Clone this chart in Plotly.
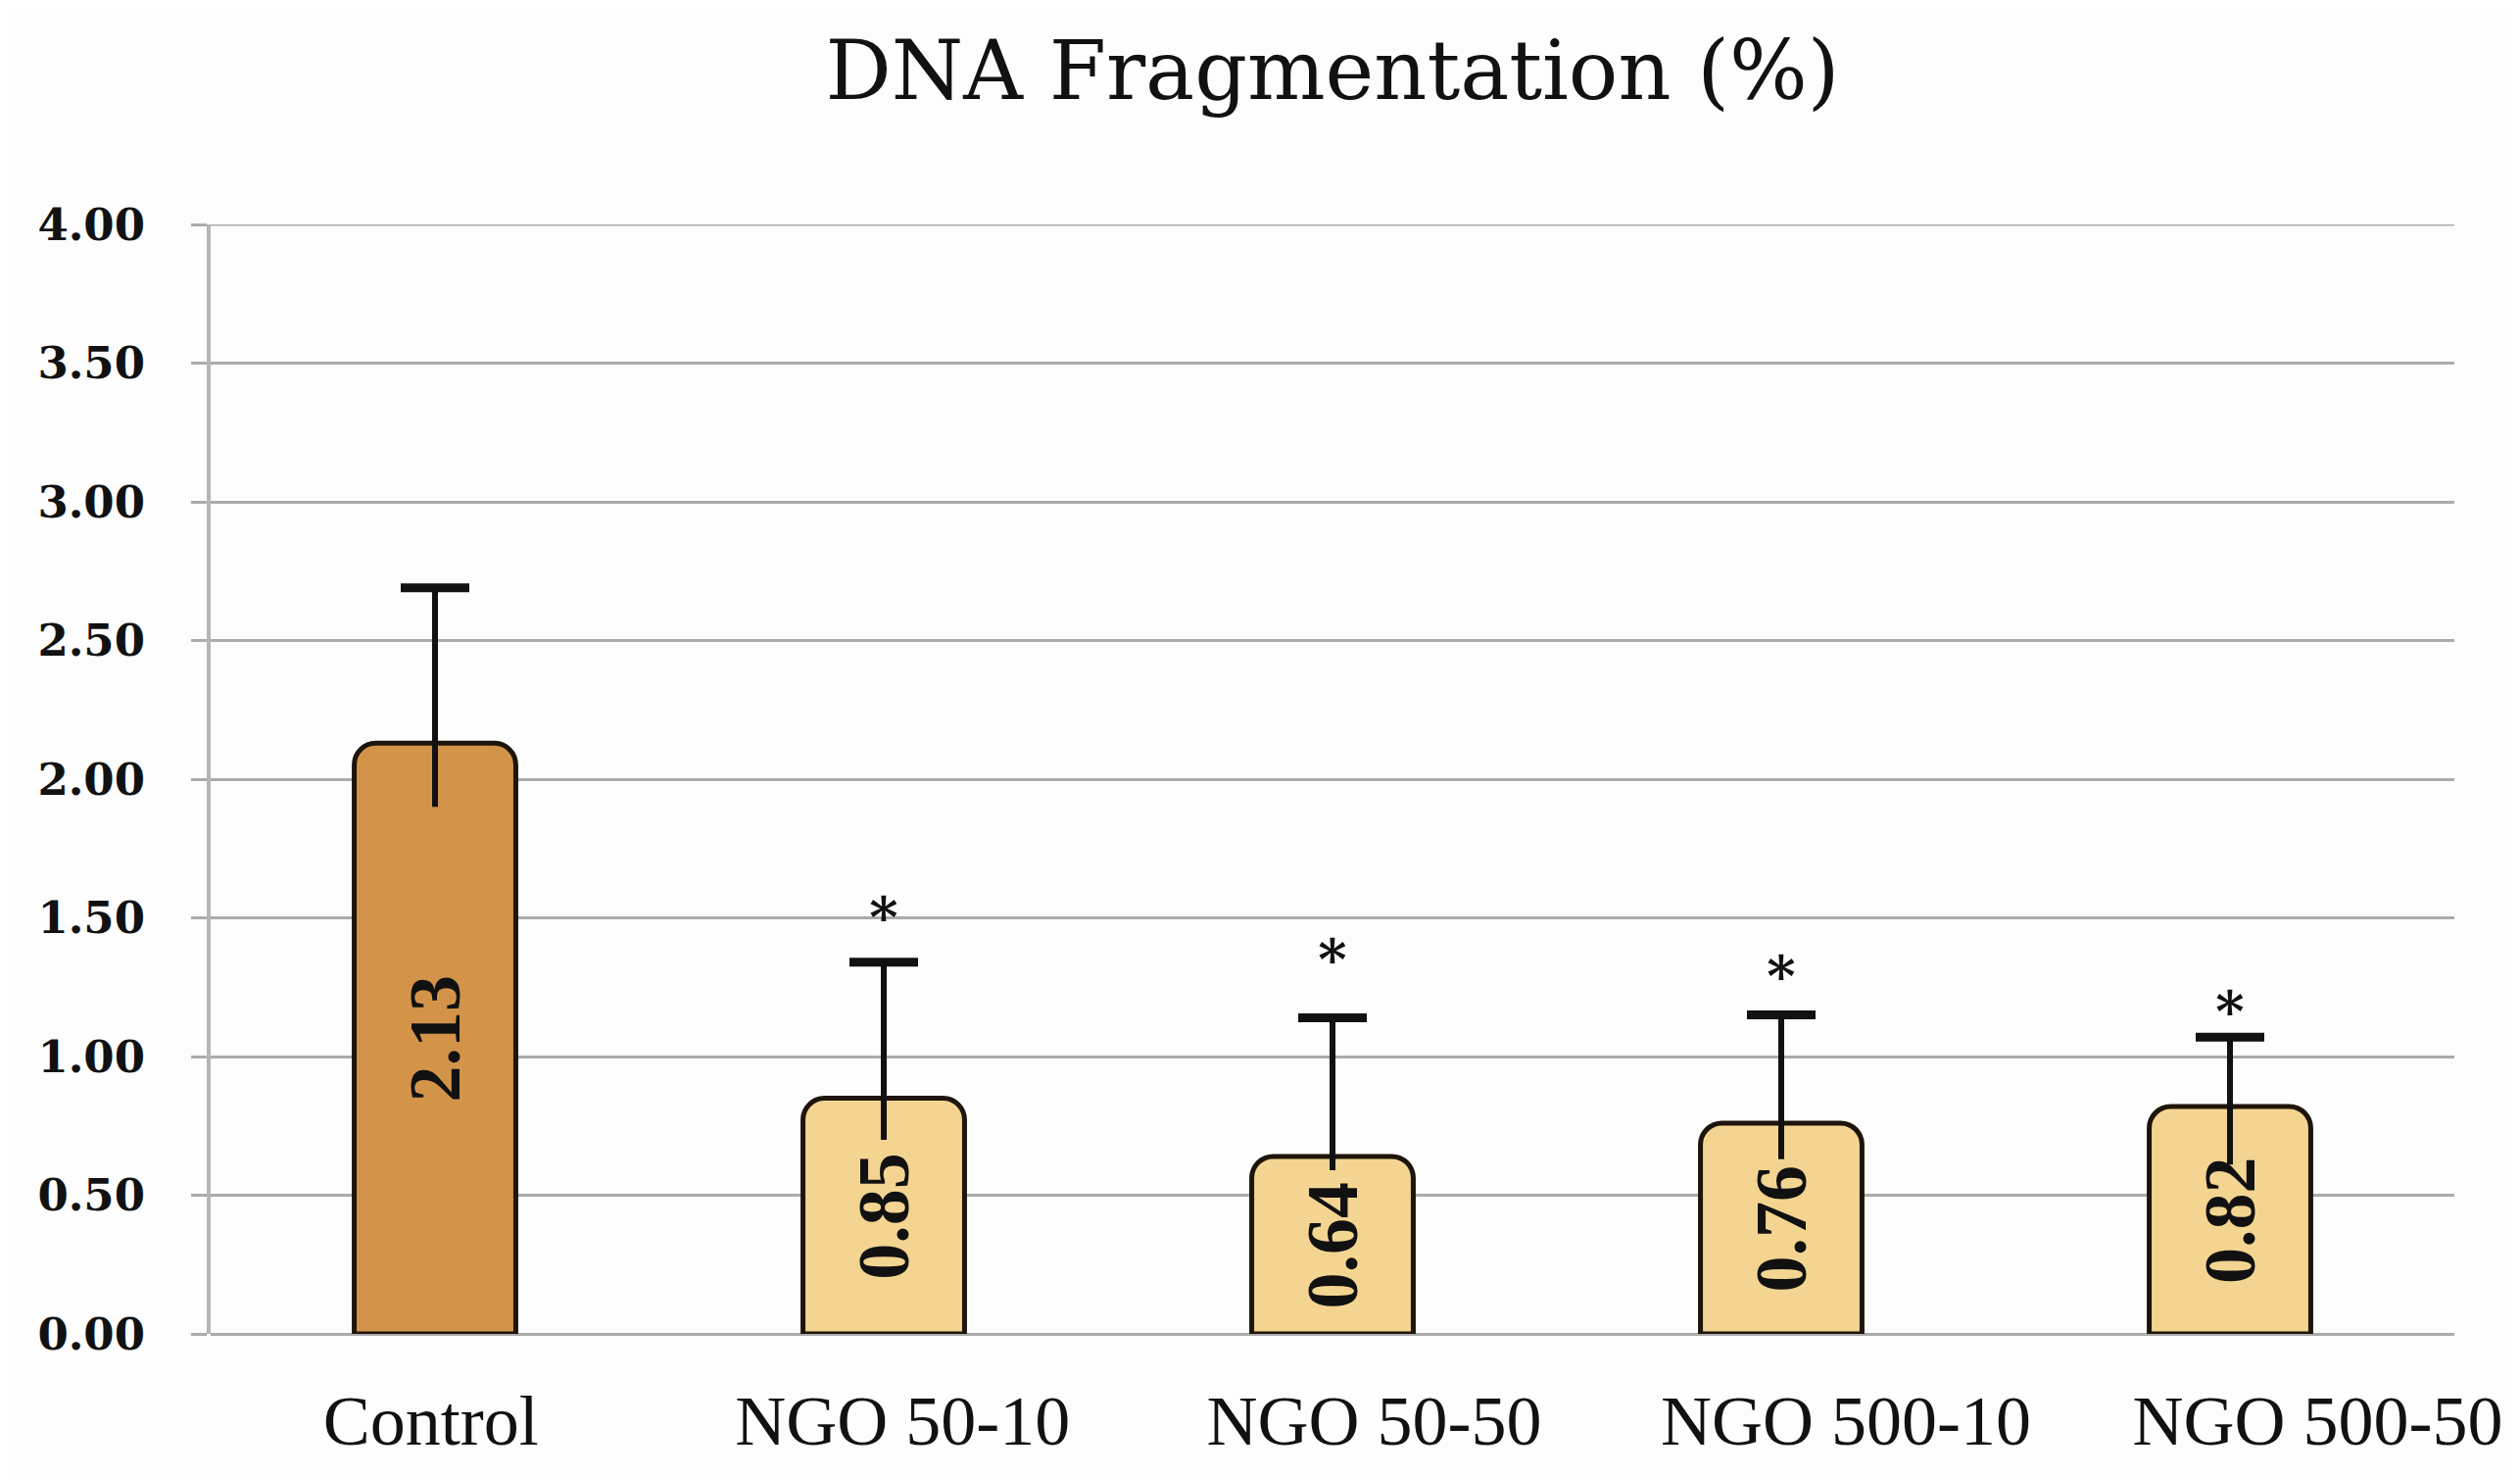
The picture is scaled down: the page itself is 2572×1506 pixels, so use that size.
import plotly.graph_objects as go

categories = ["Control", "NGO 50-10", "NGO 50-50", "NGO 500-10", "NGO 500-50"]
values = [2.13, 0.85, 0.64, 0.76, 0.82]
err_top = [2.69, 1.34, 1.14, 1.15, 1.07]
stem_bottom = [1.90, 0.70, 0.59, 0.63, 0.61]
star_y = [None, 1.48, 1.33, 1.27, 1.14]
value_labels = ["2.13", "0.85", "0.64", "0.76", "0.82"]
y_ticks = [0, 0.5, 1.0, 1.5, 2.0, 2.5, 3.0, 3.5, 4.0]
y_ticklabels = ["0.00", "0.50", "1.00", "1.50", "2.00", "2.50", "3.00", "3.50", "4.00"]

bar_colors = ["#D3944A"] + ["#F3D591"] * 4
edge = "#1E150A"
grid = "#ABABAB"

fig = go.Figure()
fig.add_trace(go.Bar(
    x=categories, y=values, width=0.36,
    marker=dict(color=bar_colors, line=dict(color=edge, width=5), cornerradius=22),
    hoverinfo="skip", showlegend=False,
))

# error stems
for c, lo, hi in zip(categories, stem_bottom, err_top):
    fig.add_trace(go.Scatter(
        x=[c, c], y=[lo, hi], mode="lines",
        line=dict(color="#111111", width=6), showlegend=False, hoverinfo="skip",
    ))
# caps
fig.add_trace(go.Scatter(
    x=categories, y=err_top, mode="markers",
    marker=dict(symbol="line-ew", size=50, line=dict(color="#111111", width=9)),
    showlegend=False, hoverinfo="skip",
))
# stars
fig.add_trace(go.Scatter(
    x=categories, y=star_y, mode="text", text=["*" if s is not None else "" for s in star_y],
    textfont=dict(family="DejaVu Serif", size=56, color="#111111", weight="bold"),
    textposition="middle center", showlegend=False, hoverinfo="skip",
))

for c, v, t in zip(categories, values, value_labels):
    fig.add_annotation(
        x=c, y=v / 2, text=t, textangle=-90, showarrow=False,
        font=dict(family="Liberation Serif", size=74, color="#111111", weight="bold"),
        xanchor="center", yanchor="middle",
    )

# invisible trace carrying the category labels on a slightly wider-spaced axis
fig.add_trace(go.Scatter(
    x=list(range(len(categories))), y=[None] * len(categories), xaxis="x2", yaxis="y",
    mode="markers", showlegend=False, hoverinfo="skip",
))

# top gridline (plotly omits the gridline at the range edge)
fig.add_shape(type="line", xref="paper", yref="y", x0=-0.007, x1=1, y0=4, y1=4,
              line=dict(color=grid, width=3), layer="below")

fig.update_layout(
    width=2572, height=1506,
    paper_bgcolor="#FDFDFD", plot_bgcolor="#FDFDFD",
    margin=dict(l=207, r=75, t=221, b=153),
    title=dict(
        text="DNA Fragmentation (%)", x=0.5, xref="paper", xanchor="center",
        y=1 - 64 / 1506, yref="container", yanchor="middle",
        font=dict(family="DejaVu Serif", size=84, color="#111111"),
    ),
    bargap=0.6,
    xaxis=dict(
        range=[-0.5, 4.5], showgrid=False, showline=False, zeroline=False,
        ticks="", showticklabels=False,
    ),
    xaxis2=dict(
        overlaying="x", anchor="y", side="bottom", range=[-0.467, 4.29],
        tickvals=list(range(len(categories))), ticktext=categories,
        showgrid=False, showline=False, zeroline=False, ticks="",
        ticklabelstandoff=40,
        tickfont=dict(family="Liberation Serif", size=72, color="#111111"),
    ),
)
fig.update_yaxes(
    range=[0, 4], tickvals=y_ticks, ticktext=y_ticklabels,
    showgrid=True, gridcolor=grid, gridwidth=3,
    showline=True, linecolor="#B5B5B5", linewidth=4,
    ticks="outside", ticklen=16, tickcolor=grid, tickwidth=3,
    ticklabelstandoff=38,
    zeroline=True, zerolinecolor=grid, zerolinewidth=3,
    tickfont=dict(family="DejaVu Serif", size=45, color="#111111", weight="bold"),
)

fig.write_html("out.html")
